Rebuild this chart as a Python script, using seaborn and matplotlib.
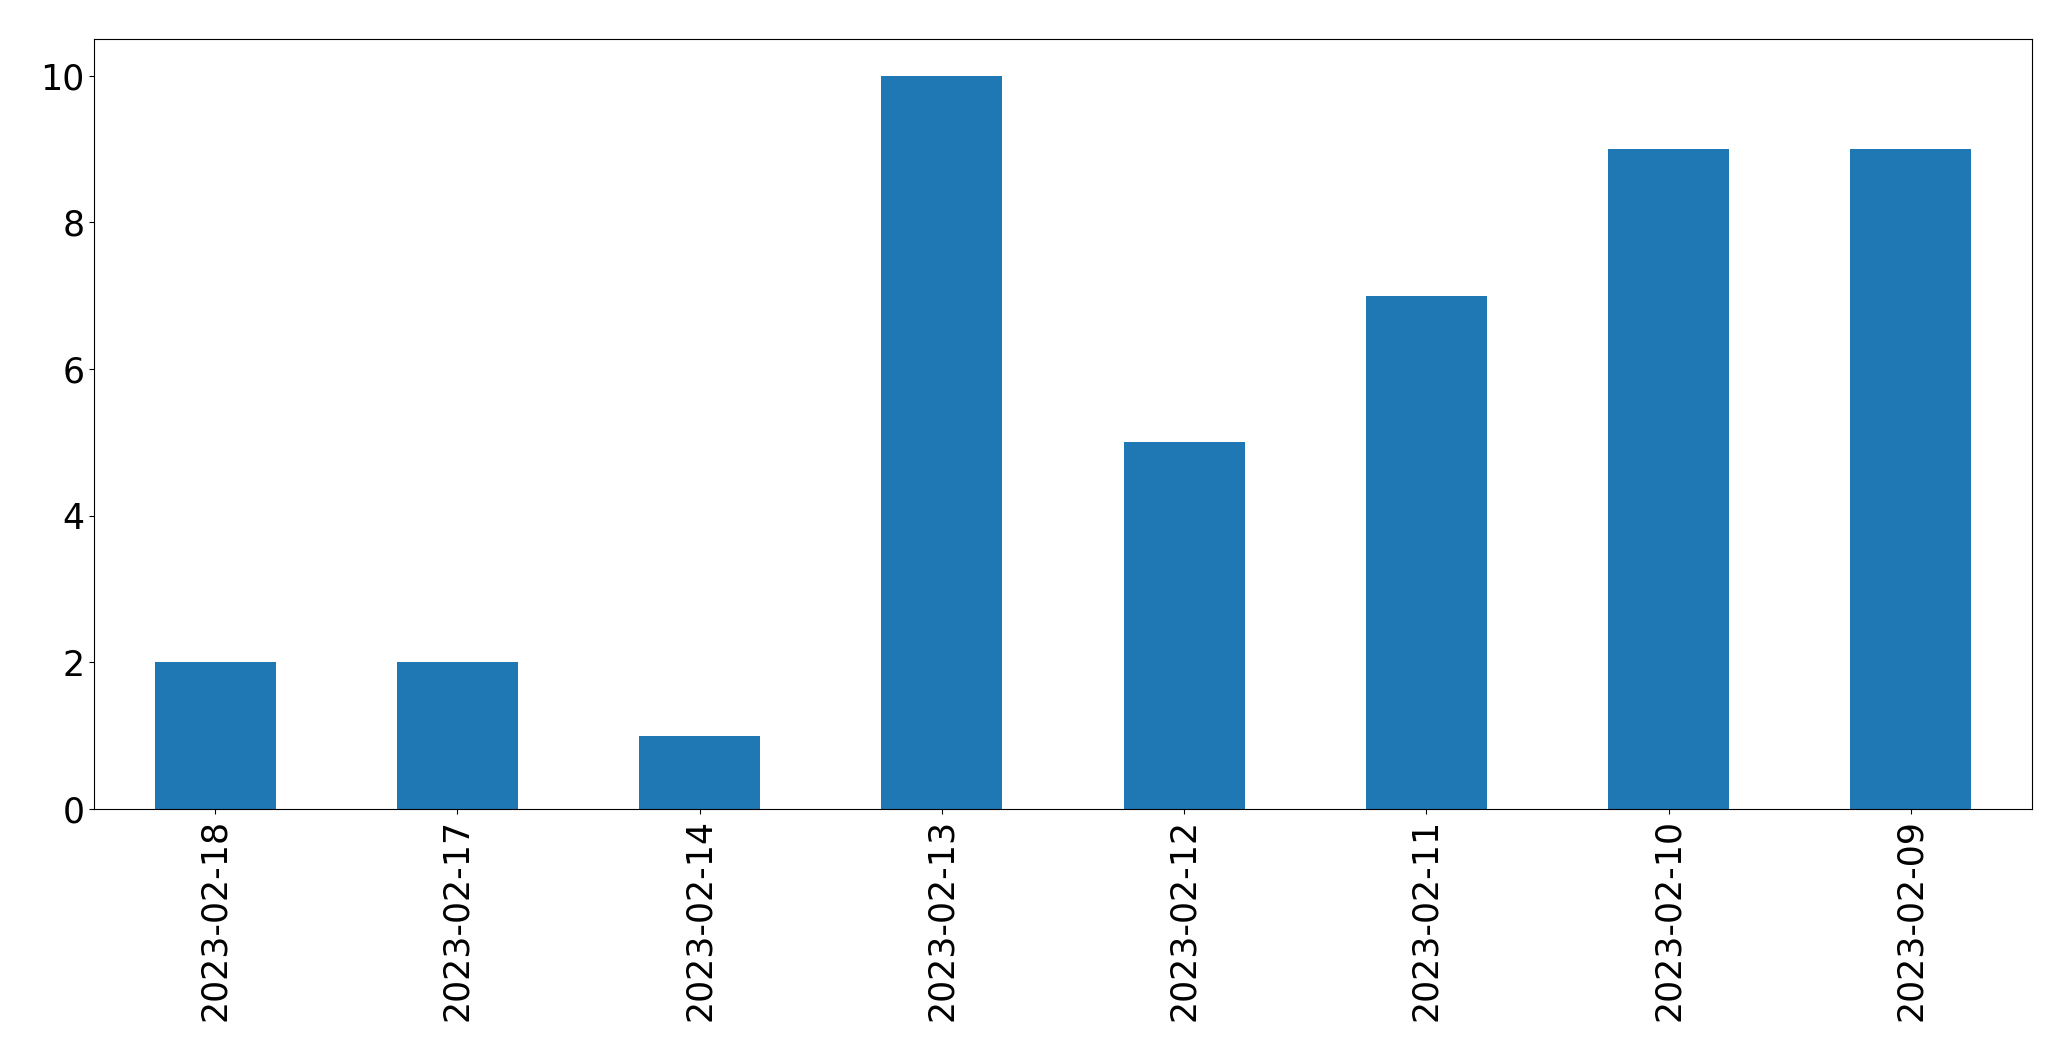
import matplotlib
matplotlib.use("Agg")
import matplotlib.pyplot as plt
import seaborn as sns
import pandas as pd

dates = ["2023-02-18", "2023-02-17", "2023-02-14", "2023-02-13",
         "2023-02-12", "2023-02-11", "2023-02-10", "2023-02-09"]
counts = [2, 2, 1, 10, 5, 7, 9, 9]

df = pd.DataFrame({"date": dates, "count": counts})

fig = plt.figure(figsize=(20.71, 10.61), dpi=100)
ax = fig.add_axes([94 / 2071, 1 - 809 / 1061, (2032 - 94) / 2071, (809 - 39) / 1061])

sns.barplot(data=df, x="date", y="count", order=dates, color="#1f77b4",
            saturation=1, width=0.5, ax=ax)

ax.set_xlim(-0.5, len(dates) - 0.5)
ax.set_ylim(0, 10.5)
ax.set_xlabel("")
ax.set_ylabel("")
ax.tick_params(axis="both", labelsize=25)
ax.tick_params(axis="x", labelrotation=90)
for s in ax.spines.values():
    s.set_visible(True)
    s.set_color("black")
    s.set_linewidth(0.8)

fig.savefig("out.png", dpi=100)
